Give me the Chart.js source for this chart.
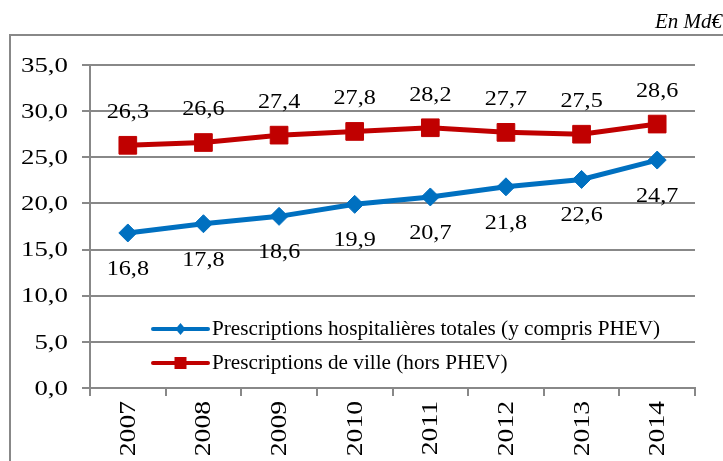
<!DOCTYPE html>
<html>
<head>
<meta charset="utf-8">
<script src="https://cdn.jsdelivr.net/npm/chart.js@4"></script>
<style>
html, body { margin: 0; padding: 0; background: #fff; }
#wrap { position: relative; width: 723px; height: 461px; }
</style>
</head>
<body>
<div id="wrap"><canvas id="chart" width="723" height="461"></canvas></div>
<script>
// DATA
const years = ['2007','2008','2009','2010','2011','2012','2013','2014'];
const hospitalieres = [16.8,17.8,18.6,19.9,20.7,21.8,22.6,24.7];
const ville = [26.3,26.6,27.4,27.8,28.2,27.7,27.5,28.6];
const seriesNames = ['Prescriptions hospitalières totales (y compris PHEV)', 'Prescriptions de ville (hors PHEV)'];
const unitLabel = 'En Md€';

const FONT = '"Liberation Serif", "Times New Roman", serif';
const fmt = v => v.toFixed(1).replace('.', ',');

// the source text is rendered a bit wide, so widen it a little
function wideText(c, txt, x, y, sx, align, rot) {
  c.save();
  c.translate(x, y);
  if (rot) c.rotate(rot);
  c.scale(sx, 1);
  c.textAlign = align;
  c.fillText(txt, 0, 0);
  c.restore();
}

// frame + unit text
const framePlugin = {
  id: 'frame',
  beforeDraw(chart) {
    const c = chart.ctx;
    c.save();
    c.strokeStyle = '#888';
    c.lineWidth = 2;
    c.beginPath();
    c.moveTo(10, 461);
    c.lineTo(10, 35);
    c.lineTo(723, 35);
    c.stroke();
    c.fillStyle = '#000';
    c.font = 'italic 20px ' + FONT;
    c.textBaseline = 'alphabetic';
    wideText(c, unitLabel, 722, 28, 1.05, 'right');
    c.restore();
  }
};

// axis tick labels
const tickTextPlugin = {
  id: 'tickText',
  afterDraw(chart) {
    const c = chart.ctx;
    const xs = chart.scales.x, ys = chart.scales.y;
    c.save();
    c.fillStyle = '#000';
    c.font = '22px ' + FONT;
    c.textBaseline = 'middle';
    ys.ticks.forEach(t => {
      wideText(c, fmt(t.value), 68, ys.getPixelForValue(t.value) + 1, 1.22, 'right');
    });
    c.font = '23px ' + FONT;
    years.forEach((lab, i) => {
      wideText(c, lab, xs.getPixelForValue(i) + 1, xs.top + 13, 1.2, 'right', -Math.PI / 2);
    });
    c.restore();
  }
};

// value labels
const labelPlugin = {
  id: 'valueLabels',
  afterDatasetsDraw(chart) {
    const c = chart.ctx;
    c.save();
    c.font = '22px ' + FONT;
    c.fillStyle = '#000';
    c.textBaseline = 'middle';
    chart.data.datasets.forEach((ds, i) => {
      const meta = chart.getDatasetMeta(i);
      meta.data.forEach((pt, j) => {
        const dy = i === 0 ? 36 : -33;
        wideText(c, fmt(ds.data[j]), pt.x, pt.y + dy, 1.1, 'center');
      });
    });
    c.restore();
  }
};

// legend inside plot area
const legendPlugin = {
  id: 'innerLegend',
  afterDatasetsDraw(chart) {
    const c = chart.ctx;
    const area = chart.chartArea;
    const x0 = area.left + 63;
    const ys = [area.top + 264, area.top + 298];
    c.save();
    chart.data.datasets.forEach((ds, i) => {
      const y = ys[i];
      const mx = x0 + 27.5;
      c.strokeStyle = ds.borderColor;
      c.lineWidth = 4;
      c.lineCap = 'round';
      c.beginPath();
      c.moveTo(x0, y);
      c.lineTo(x0 + 55, y);
      c.stroke();
      c.fillStyle = ds.borderColor;
      c.beginPath();
      if (ds.pointStyle === 'rect') {
        c.rect(mx - 6, y - 6, 12, 12);
      } else {
        c.moveTo(mx - 5, y);
        c.lineTo(mx, y - 6);
        c.lineTo(mx + 5, y);
        c.lineTo(mx, y + 6);
        c.closePath();
      }
      c.fill();
      c.fillStyle = '#000';
      c.font = '20px ' + FONT;
      c.textBaseline = 'middle';
      wideText(c, ds.label, x0 + 59, y + 1, 1.06, 'left');
    });
    c.restore();
  }
};

new Chart(document.getElementById('chart'), {
  type: 'line',
  data: {
    labels: years,
    datasets: [{
      label: seriesNames[0],
      data: hospitalieres,
      borderColor: '#0070C0',
      backgroundColor: '#0070C0',
      borderWidth: 5,
      pointStyle: 'rectRot',
      pointRadius: 9,
      pointBorderWidth: 1,
      tension: 0
    }, {
      label: seriesNames[1],
      data: ville,
      borderColor: '#C00000',
      backgroundColor: '#C00000',
      borderWidth: 5,
      pointStyle: 'rect',
      pointRadius: 12.5,
      pointBorderWidth: 1,
      tension: 0
    }]
  },
  options: {
    responsive: false,
    animation: false,
    layout: { padding: { left: 10, top: 65, right: 28, bottom: 0 } },
    plugins: {
      legend: { display: false },
      tooltip: { enabled: false },
      title: { display: false }
    },
    scales: {
      x: {
        offset: true,
        grid: { offset: true, drawOnChartArea: false, drawTicks: true, tickLength: 8, color: '#888', lineWidth: 2 },
        border: { color: '#888', width: 2 },
        ticks: { display: false },
        afterFit: s => { s.height = 73; }
      },
      y: {
        min: 0,
        max: 35,
        grid: { color: '#888', lineWidth: 2, tickLength: 8 },
        border: { color: '#888', width: 2 },
        ticks: { stepSize: 5, display: false },
        afterFit: s => { s.width = 80; }
      }
    }
  },
  plugins: [framePlugin, tickTextPlugin, labelPlugin, legendPlugin]
});
</script>
</body>
</html>
